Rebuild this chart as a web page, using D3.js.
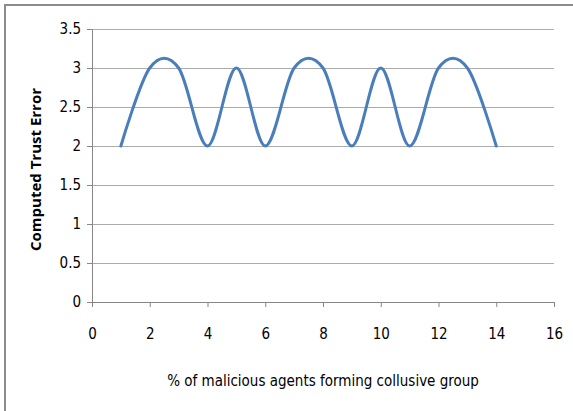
<!DOCTYPE html>
<html>
<head>
<meta charset="utf-8">
<script src="https://cdn.jsdelivr.net/npm/d3@7"></script>
<style>
  body { margin: 0; background: #fff; }
  svg text { font-family: "Liberation Sans Narrow", "DejaVu Sans Condensed", "Open Sans", sans-serif; fill: #000; }
</style>
</head>
<body>
<div id="chart"></div>
<script>
// data
const xValues = [1, 2, 3, 4, 5, 6, 7, 8, 9, 10, 11, 12, 13, 14];
const trustError = [2, 3, 3, 2, 3, 2, 3, 3, 2, 3, 2, 3, 3, 2];
const xTicks = [0, 2, 4, 6, 8, 10, 12, 14, 16];
const yTicks = [0, 0.5, 1, 1.5, 2, 2.5, 3, 3.5];

const width = 573, height = 411;
const margin = { top: 29, right: 19, bottom: 109, left: 92 };

const svg = d3.select("#chart").append("svg")
    .attr("width", width)
    .attr("height", height);

// outer frame (only top and left visible)
svg.append("path")
    .attr("d", "M5,411 L5,5 L573,5")
    .attr("fill", "none")
    .attr("stroke", "#8c8c8c")
    .attr("stroke-width", 2);

const x = d3.scaleLinear().domain([0, 16]).range([margin.left, width - margin.right]);
const y = d3.scaleLinear().domain([0, 3.5]).range([height - margin.bottom, margin.top]);

// gridlines
svg.append("g")
    .selectAll("line")
    .data(yTicks.filter(d => d > 0))
    .join("line")
    .attr("x1", x(0))
    .attr("x2", x(16))
    .attr("y1", d => Math.round(y(d)) + 0.5)
    .attr("y2", d => Math.round(y(d)) + 0.5)
    .attr("stroke", "#ababab")
    .attr("stroke-width", 1);

// y axis
const yAxis = svg.append("g")
    .attr("transform", `translate(${x(0)},0)`)
    .call(d3.axisLeft(y).tickValues(yTicks).tickSize(5).tickPadding(6).tickFormat(d3.format("")));
yAxis.select(".domain").attr("stroke", "#868686");
yAxis.selectAll(".tick line").attr("stroke", "#868686");
yAxis.selectAll("text").attr("font-size", 15);

// x axis
const xAxis = svg.append("g")
    .attr("transform", `translate(0,${y(0)})`)
    .call(d3.axisBottom(x).tickValues(xTicks).tickSize(5).tickPadding(21));
xAxis.select(".domain").attr("stroke", "#868686");
xAxis.selectAll(".tick line").attr("stroke", "#868686");
xAxis.selectAll("text").attr("font-size", 15);

// smoothed line
const line = d3.line()
    .x((d, i) => x(xValues[i]))
    .y(d => y(d))
    .curve(d3.curveCardinal.tension(0));

svg.append("path")
    .datum(trustError)
    .attr("d", line)
    .attr("fill", "none")
    .attr("stroke", "#4a7ebb")
    .attr("stroke-width", 3)
    .attr("stroke-linecap", "round");

// axis titles
svg.append("text")
    .attr("x", (x(0) + x(16)) / 2)
    .attr("y", 386)
    .attr("text-anchor", "middle")
    .attr("font-size", 15)
    .text("% of malicious agents forming collusive group");

svg.append("text")
    .attr("transform", `translate(41,${(y(0) + y(3.5)) / 2 + 4}) rotate(-90)`)
    .attr("text-anchor", "middle")
    .attr("font-size", 15)
    .attr("font-weight", "bold")
    .style("font-family", "'Open Sans', 'DejaVu Sans', sans-serif")
    .text("Computed Trust Error");
</script>
</body>
</html>
